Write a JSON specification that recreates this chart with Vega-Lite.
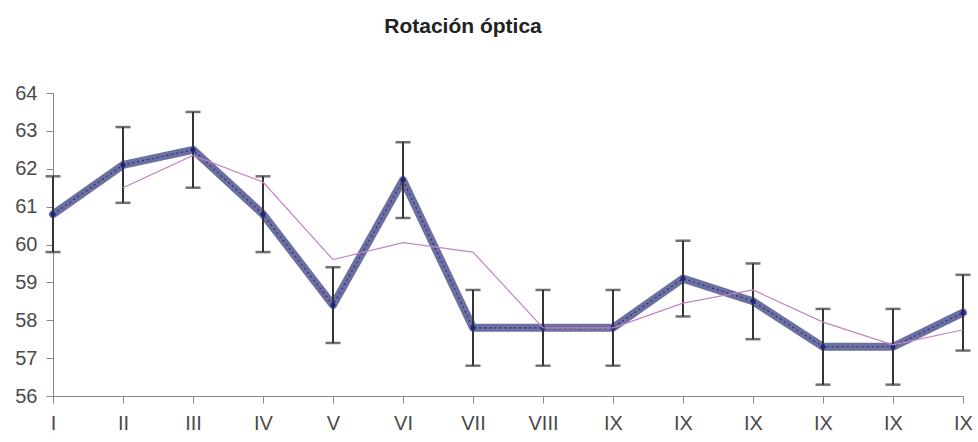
{
  "$schema": "https://vega.github.io/schema/vega-lite/v6.json",
  "width": 910,
  "height": 303,
  "autosize": {"type": "none"},
  "padding": {"left": 53, "top": 93, "right": 15, "bottom": 46},
  "background": "white",
  "config": {
    "view": {"stroke": null},
    "font": "Liberation Sans"
  },
  "title": {
    "text": "Rotación óptica",
    "font": "Liberation Sans",
    "fontSize": 21,
    "fontWeight": "bold",
    "color": "#222222",
    "anchor": "middle",
    "dx": -45,
    "offset": 46
  },
  "data": {
    "values": [
      {"cat": "I", "value": 60.8, "lo": 59.8, "hi": 61.8, "avg": null},
      {"cat": "II", "value": 62.1, "lo": 61.1, "hi": 63.1, "avg": 61.5},
      {"cat": "III", "value": 62.5, "lo": 61.5, "hi": 63.5, "avg": 62.35},
      {"cat": "IV", "value": 60.8, "lo": 59.8, "hi": 61.8, "avg": 61.65},
      {"cat": "V", "value": 58.4, "lo": 57.4, "hi": 59.4, "avg": 59.6},
      {"cat": "VI", "value": 61.7, "lo": 60.7, "hi": 62.7, "avg": 60.05},
      {"cat": "VII", "value": 57.8, "lo": 56.8, "hi": 58.8, "avg": 59.8},
      {"cat": "VIII", "value": 57.8, "lo": 56.8, "hi": 58.8, "avg": 57.8},
      {"cat": "IX_1", "value": 57.8, "lo": 56.8, "hi": 58.8, "avg": 57.8},
      {"cat": "IX_2", "value": 59.1, "lo": 58.1, "hi": 60.1, "avg": 58.45},
      {"cat": "IX_3", "value": 58.5, "lo": 57.5, "hi": 59.5, "avg": 58.8},
      {"cat": "IX_4", "value": 57.3, "lo": 56.3, "hi": 58.3, "avg": 57.95},
      {"cat": "IX_5", "value": 57.3, "lo": 56.3, "hi": 58.3, "avg": 57.35},
      {"cat": "IX_6", "value": 58.2, "lo": 57.2, "hi": 59.2, "avg": 57.75}
    ]
  },
  "encoding": {
    "x": {
      "field": "cat",
      "type": "nominal",
      "sort": null,
      "scale": {"type": "point", "padding": 0},
      "axis": {
        "title": null,
        "labelAngle": 0,
        "labelExpr": "split(datum.label, '_')[0]",
        "labelFont": "Liberation Sans",
        "labelFontSize": 20,
        "labelColor": "#4a4a4a",
        "labelPadding": 10,
        "labelOverlap": false,
        "tickSize": 7,
        "tickColor": "#888888",
        "domainColor": "#888888",
        "grid": false
      }
    }
  },
  "layer": [
    {
      "mark": {"type": "line", "color": "#6c70a0", "strokeWidth": 8, "strokeJoin": "round", "strokeCap": "round"},
      "encoding": {
        "y": {
          "field": "value",
          "type": "quantitative",
          "scale": {"domain": [56, 64], "zero": false, "nice": false},
          "axis": {"title": null, "values": [56, 57, 58, 59, 60, 61, 62, 63, 64], "labelOverlap": false, "labelFont": "Liberation Sans", "labelFontSize": 20, "labelColor": "#4a4a4a", "labelPadding": 9, "tickSize": 7, "tickColor": "#888888", "domainColor": "#888888", "grid": false}
        }
      }
    },
    {
      "mark": {"type": "line", "color": "#2a2e7a", "strokeWidth": 1.2, "strokeDash": [2, 3]},
      "encoding": {"y": {"field": "value", "type": "quantitative",
          "axis": {"title": null, "values": [56, 57, 58, 59, 60, 61, 62, 63, 64], "labelOverlap": false, "labelFont": "Liberation Sans", "labelFontSize": 20, "labelColor": "#4a4a4a", "labelPadding": 9, "tickSize": 7, "tickColor": "#888888", "domainColor": "#888888", "grid": false}}}
    },
    {
      "mark": {"type": "rule", "color": "#333333", "strokeWidth": 2},
      "encoding": {
        "y": {"field": "lo", "type": "quantitative",
          "axis": {"title": null, "values": [56, 57, 58, 59, 60, 61, 62, 63, 64], "labelOverlap": false, "labelFont": "Liberation Sans", "labelFontSize": 20, "labelColor": "#4a4a4a", "labelPadding": 9, "tickSize": 7, "tickColor": "#888888", "domainColor": "#888888", "grid": false}},
        "y2": {"field": "hi"}
      }
    },
    {
      "mark": {"type": "tick", "color": "#333333", "thickness": 2.5, "size": 15, "orient": "horizontal"},
      "encoding": {"y": {"field": "lo", "type": "quantitative",
          "axis": {"title": null, "values": [56, 57, 58, 59, 60, 61, 62, 63, 64], "labelOverlap": false, "labelFont": "Liberation Sans", "labelFontSize": 20, "labelColor": "#4a4a4a", "labelPadding": 9, "tickSize": 7, "tickColor": "#888888", "domainColor": "#888888", "grid": false}}}
    },
    {
      "mark": {"type": "tick", "color": "#333333", "thickness": 2.5, "size": 15, "orient": "horizontal"},
      "encoding": {"y": {"field": "hi", "type": "quantitative",
          "axis": {"title": null, "values": [56, 57, 58, 59, 60, 61, 62, 63, 64], "labelOverlap": false, "labelFont": "Liberation Sans", "labelFontSize": 20, "labelColor": "#4a4a4a", "labelPadding": 9, "tickSize": 7, "tickColor": "#888888", "domainColor": "#888888", "grid": false}}}
    },
    {
      "mark": {"type": "point", "filled": true, "color": "#1f237a", "size": 25, "opacity": 1},
      "encoding": {"y": {"field": "value", "type": "quantitative",
          "axis": {"title": null, "values": [56, 57, 58, 59, 60, 61, 62, 63, 64], "labelOverlap": false, "labelFont": "Liberation Sans", "labelFontSize": 20, "labelColor": "#4a4a4a", "labelPadding": 9, "tickSize": 7, "tickColor": "#888888", "domainColor": "#888888", "grid": false}}}
    },
    {
      "transform": [{"filter": "datum.avg != null"}],
      "mark": {"type": "line", "color": "#c583c4", "strokeWidth": 1.2},
      "encoding": {"y": {"field": "avg", "type": "quantitative",
          "axis": {"title": null, "values": [56, 57, 58, 59, 60, 61, 62, 63, 64], "labelOverlap": false, "labelFont": "Liberation Sans", "labelFontSize": 20, "labelColor": "#4a4a4a", "labelPadding": 9, "tickSize": 7, "tickColor": "#888888", "domainColor": "#888888", "grid": false}}}
    }
  ]
}
